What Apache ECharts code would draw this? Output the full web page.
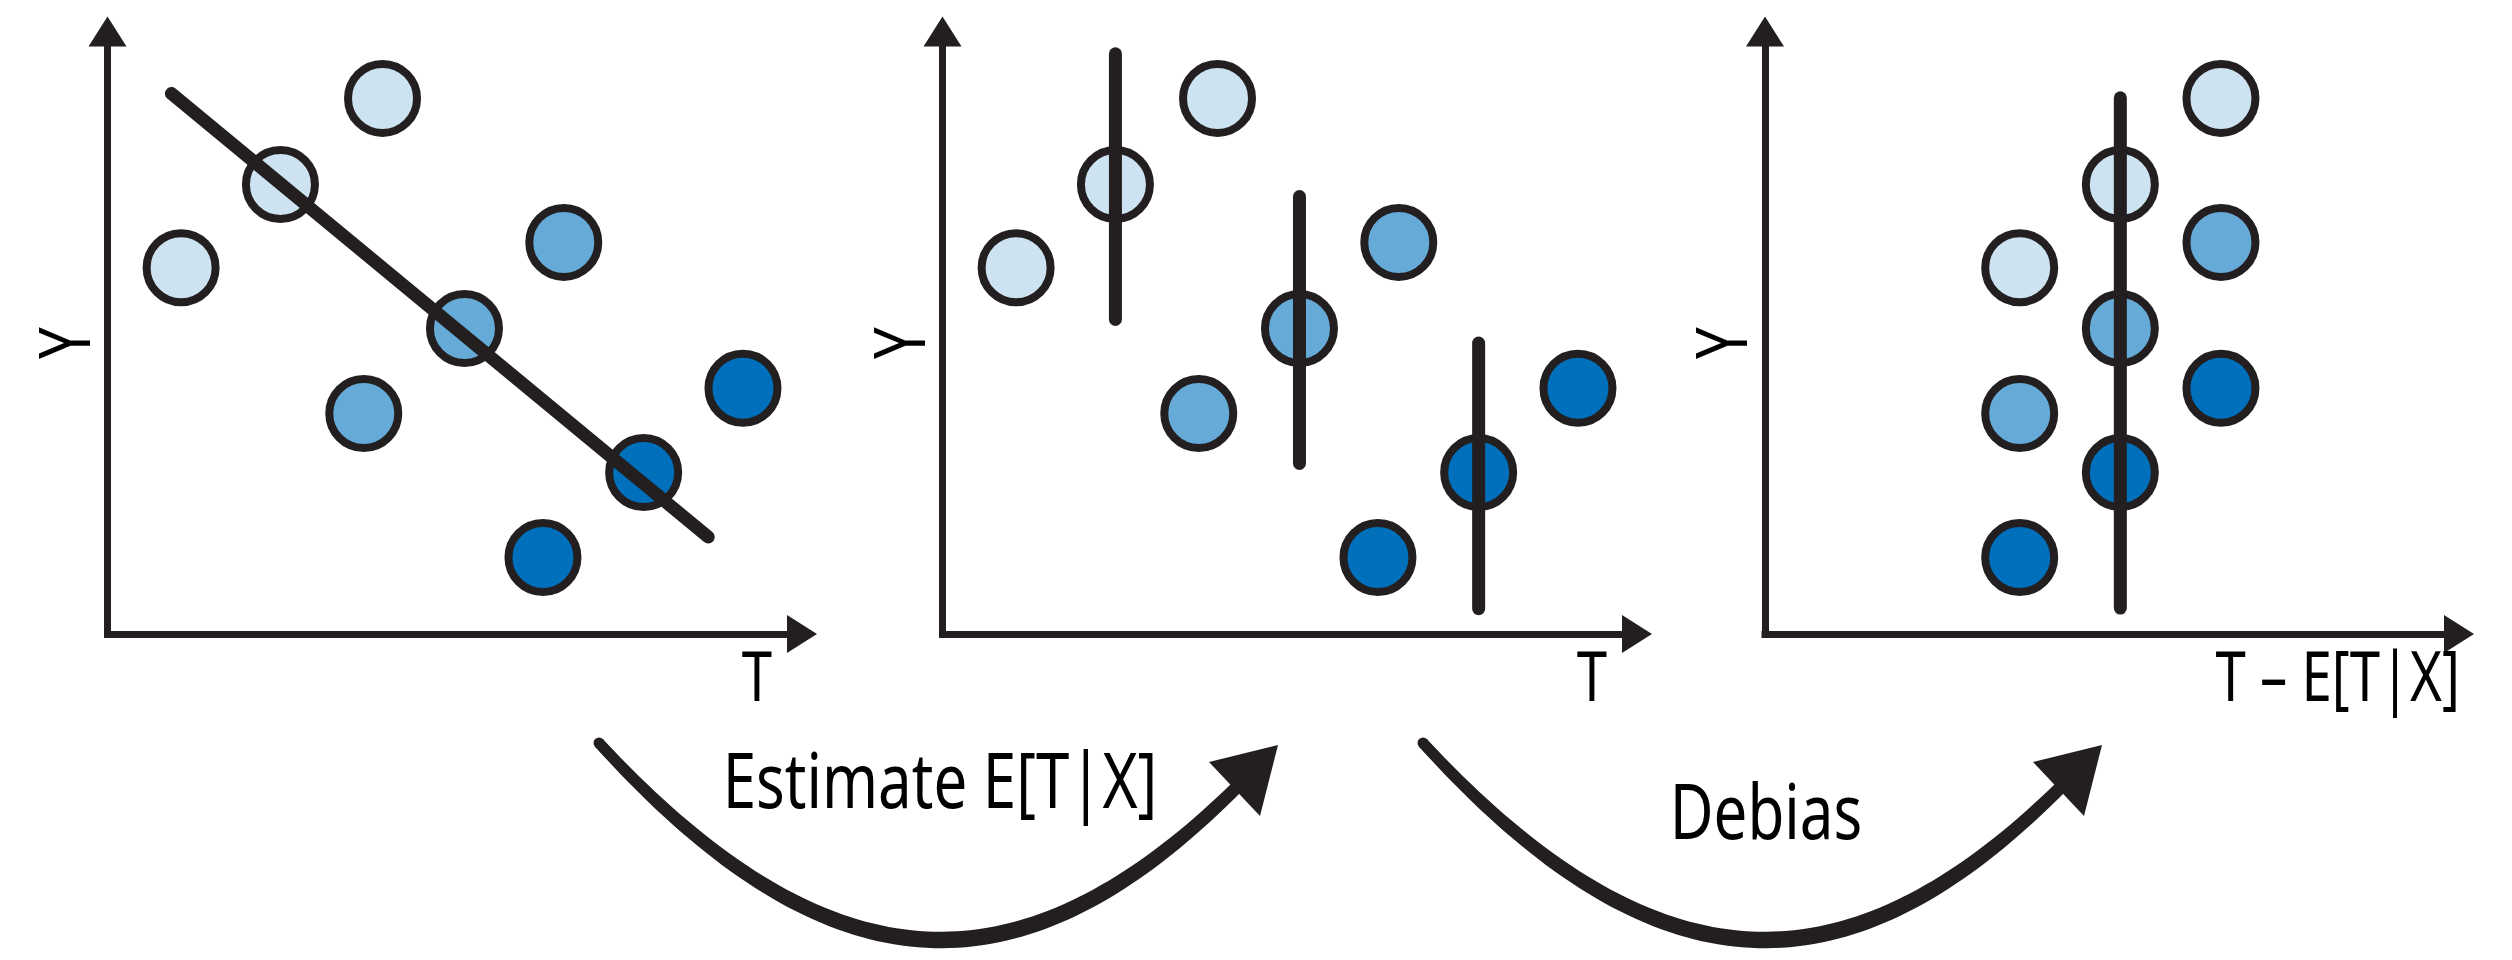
<!DOCTYPE html>
<html>
<head>
<meta charset="utf-8">
<script src="https://cdn.jsdelivr.net/npm/echarts@6.0.0/dist/echarts.min.js"></script>
<style>
  html, body { margin: 0; padding: 0; background: #ffffff; }
  #chart { width: 2512px; height: 960px; }
</style>
</head>
<body>
<div id="chart"></div>
<script>
// ---- data (axis units 0..100) ----
const groupNames = ['light', 'medium', 'dark'];
const yLight  = [60.8, 74.6, 88.9];
const yMedium = [36.6, 50.7, 65.0];
const yDark   = [12.7, 26.8, 40.8];
const tLight  = [10.6, 24.9, 39.6];
const tMedium = [36.9, 51.4, 65.7];
const tDark   = [62.7, 77.2, 91.5];
const residT  = [36.7, 51.2, 65.7];          // T - E[T|X] for each group (panel 3)
const fitT = [9.2, 86.5];                    // regression line (panel 1)
const fitY = [89.7, 16.1];
const stripeT      = [24.9, 51.4, 77.2];     // E[T|X] bands (panel 2)
const stripeTop    = [96.3, 72.6, 48.3];
const stripeBottom = [52.2, 28.3, 4.2];
const centerT = [51.2];                      // centred line (panel 3)
const centerTop = [89.0];
const centerBottom = [4.3];
const xNames = ['T', 'T', 'T \u2013 E[T|X]'];
const yNames = ['Y', 'Y', 'Y'];
const stepLabels = ['Estimate E[T|X]', 'Debias'];

// ---- styling ----
const INK = '#231f20';
const FILL = { light: '#cde3f1', medium: '#66aad7', dark: '#0070bc' };
const FONT = "'Noto Sans', 'Open Sans', sans-serif";
const ARROW = 'path://M19,0L38,30L0,30Z';

const grids = [
  { left: 107.5, top: 31.5, width: 694.5, height: 602.5 },
  { left: 942.5, top: 31.5, width: 694.5, height: 602.5 },
  { left: 1765,  top: 31.5, width: 694,   height: 602.5 }
];

// condensed look: one horizontal squeeze for all labels, measured from the main label
function inkWidth(text, size) {
  const c = document.createElement('canvas').getContext('2d');
  c.font = size + 'px ' + FONT;
  const m = c.measureText(text);
  const w = (m.actualBoundingBoxLeft || 0) + (m.actualBoundingBoxRight || 0);
  return w > 0 ? w : m.width;
}
const SQUEEZE = Math.min(1, 425 / inkWidth(stepLabels[0], 77));

const ys = { light: yLight, medium: yMedium, dark: yDark };
const ts = { light: tLight, medium: tMedium, dark: tDark };

function axisLine() {
  return { show: true, onZero: false, symbol: ['none', ARROW], symbolSize: [38, 30],
           lineStyle: { color: INK, width: 7, cap: 'square' } };
}
const hidden = { axisTick: { show: false }, axisLabel: { show: false }, splitLine: { show: false } };
const xAxis = grids.map((g, i) => Object.assign({ type: 'value', gridIndex: i, min: 0, max: 100, axisLine: axisLine() }, hidden));
const yAxis = grids.map((g, i) => Object.assign({ type: 'value', gridIndex: i, min: 0, max: 100, axisLine: axisLine() }, hidden));

const series = [];
for (let p = 0; p < 3; p++) {
  groupNames.forEach(gname => {
    const xs = p === 2 ? residT : ts[gname];
    series.push({
      type: 'scatter', xAxisIndex: p, yAxisIndex: p, z: 2,
      symbol: 'circle', symbolSize: 69,
      itemStyle: { color: FILL[gname], borderColor: INK, borderWidth: 8, opacity: 1 },
      data: xs.map((x, k) => [x, ys[gname][k]]),
      silent: true
    });
  });
}
function segment(p, data) {
  return { type: 'line', xAxisIndex: p, yAxisIndex: p, z: 5, symbol: 'none', silent: true,
           lineStyle: { color: INK, width: 13, cap: 'round' }, data };
}
series.push(segment(0, fitT.map((t, k) => [t, fitY[k]])));
stripeT.forEach((t, k) => series.push(segment(1, [[t, stripeTop[k]], [t, stripeBottom[k]]])));
centerT.forEach((t, k) => series.push(segment(2, [[t, centerTop[k]], [t, centerBottom[k]]])));

// ---- axis titles (real text, placed against each grid) ----
function label(text, x, y, size, align, rotation) {
  return { type: 'text', x, y, z: 11, silent: true, rotation: rotation || 0,
           scaleX: SQUEEZE, scaleY: 1,
           style: { text, fontFamily: FONT, fontSize: size, fill: '#000', align, verticalAlign: 'middle' } };
}
const titles = [];
grids.forEach((g, i) => {
  const right = g.left + g.width;
  titles.push(label(yNames[i], g.left - 38.5, 343, 72, 'center', Math.PI / 2));
  if (i < 2) titles.push(label(xNames[i], right - 45, 681, 70, 'center'));
  else titles.push(label(xNames[i], right + 1, 681, 70, 'right'));
});

// ---- curved step arrows (decoration) ----
function stepArrow(dx) {
  const P = [[599 + dx, 743], [833 + dx, 998], [1025 + dx, 998], [1238 + dx, 786]];
  const N = 80, L = [], R = [];
  for (let k = 0; k <= N; k++) {
    const t = k / N, u = 1 - t;
    const x = u*u*u*P[0][0] + 3*u*u*t*P[1][0] + 3*u*t*t*P[2][0] + t*t*t*P[3][0];
    const y = u*u*u*P[0][1] + 3*u*u*t*P[1][1] + 3*u*t*t*P[2][1] + t*t*t*P[3][1];
    const dxt = 3*u*u*(P[1][0]-P[0][0]) + 6*u*t*(P[2][0]-P[1][0]) + 3*t*t*(P[3][0]-P[2][0]);
    const dyt = 3*u*u*(P[1][1]-P[0][1]) + 6*u*t*(P[2][1]-P[1][1]) + 3*t*t*(P[3][1]-P[2][1]);
    const len = Math.hypot(dxt, dyt) || 1;
    const w = (11 + 5.5 * Math.sin(Math.PI * t * 0.9)) / 2;
    L.push([x - dyt / len * w, y + dxt / len * w]);
    R.push([x + dyt / len * w, y - dxt / len * w]);
  }
  return [
    { type: 'polygon', z: 10, silent: true, shape: { points: L.concat(R.reverse()) }, style: { fill: INK } },
    { type: 'circle', z: 10, silent: true, shape: { cx: P[0][0], cy: P[0][1], r: 5.5 }, style: { fill: INK } },
    { type: 'polygon', z: 10, silent: true,
      shape: { points: [[1278 + dx, 745], [1209 + dx, 762], [1260 + dx, 816]] }, style: { fill: INK } }
  ];
}
const graphic = [].concat(
  stepArrow(0), stepArrow(824), titles,
  [ label(stepLabels[0], 940, 786, 77, 'center'),
    label(stepLabels[1], 1766, 817, 77, 'center') ]
);

const chart = echarts.init(document.getElementById('chart'), null, { renderer: 'canvas' });
chart.setOption({
  backgroundColor: '#ffffff',
  animation: false,
  grid: grids,
  xAxis, yAxis, series, graphic
});
</script>
</body>
</html>
